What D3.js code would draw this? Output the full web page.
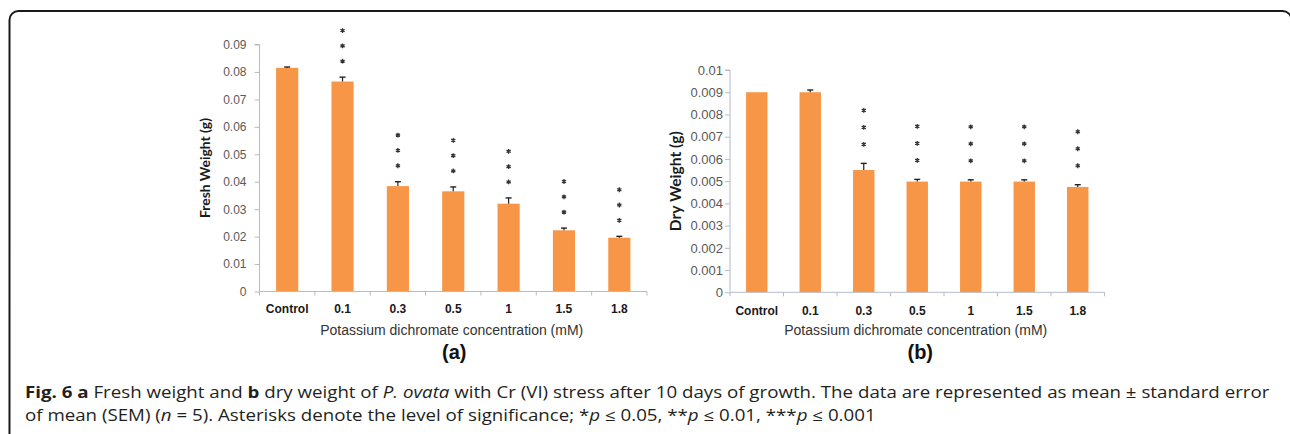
<!DOCTYPE html>
<html>
<head>
<meta charset="utf-8">
<script src="https://cdn.jsdelivr.net/npm/d3@7/dist/d3.min.js"></script>
<style>
  html, body { margin: 0; padding: 0; background: #fff; }
  svg { display: block; }
</style>
</head>
<body>
<svg id="chart" width="1290" height="434"></svg>
<script>
// ---------------- DATA ----------------
const categories = ["Control", "0.1", "0.3", "0.5", "1", "1.5", "1.8"];

const freshMean = [0.0815, 0.0765, 0.0384, 0.0365, 0.0320, 0.0223, 0.0196];
const freshSem  = [0.0003, 0.0016, 0.0016, 0.0016, 0.0021, 0.0008, 0.0005];
const freshStars = [0, 3, 3, 3, 3, 3, 3];
const freshTicks = [0, 0.01, 0.02, 0.03, 0.04, 0.05, 0.06, 0.07, 0.08, 0.09];
const freshTickLabels = ["0", "0.01", "0.02", "0.03", "0.04", "0.05", "0.06", "0.07", "0.08", "0.09"];

const dryMean = [0.0090, 0.0090, 0.0055, 0.00498, 0.00498, 0.00498, 0.00474];
const drySem  = [0, 0.0001, 0.0003, 0.0001, 0.00008, 0.00008, 0.0001];
const dryStars = [0, 0, 3, 3, 3, 3, 3];
const dryTicks = [0, 0.001, 0.002, 0.003, 0.004, 0.005, 0.006, 0.007, 0.008, 0.009, 0.01];
const dryTickLabels = ["0", "0.001", "0.002", "0.003", "0.004", "0.005", "0.006", "0.007", "0.008", "0.009", "0.01"];

const xTitle = "Potassium dichromate concentration (mM)";

// ---------------- DRAW ----------------
const svg = d3.select("#chart");

// rounded frame
svg.append("rect")
  .attr("x", 9.5).attr("y", 11).attr("width", 1282).attr("height", 500)
  .attr("rx", 9).attr("ry", 9)
  .attr("fill", "none").attr("stroke", "#1a1a1a").attr("stroke-width", 2);

const BAR = "#F79646";
const AXIS = "#b4bcc8";

function panel(cfg) {
  const g = svg.append("g");
  const x = d3.scaleBand().domain(categories).range(cfg.xRange).paddingInner(0).paddingOuter(0);
  const y = d3.scaleLinear().domain(cfg.yDomain).range(cfg.yRange);
  const bw = x.bandwidth() * 0.4;
  const cx = c => x(c) + x.bandwidth() / 2;

  // y axis
  const ya = d3.axisLeft(y).tickValues(cfg.ticks)
    .tickFormat((d, i) => cfg.tickLabels[i]).tickSize(5).tickPadding(cfg.tickPad);
  const yg = g.append("g").attr("transform", `translate(${cfg.xRange[0]},0)`).call(ya);
  yg.select(".domain").attr("stroke", AXIS).attr("d", `M-5,${cfg.yRange[1]}H0V${cfg.yRange[0]}`);
  yg.selectAll(".tick line").attr("stroke", AXIS);
  yg.selectAll(".tick text").attr("fill", "#595959")
    .style("font-family", "'Liberation Sans', Arial, sans-serif").style("font-size", cfg.tickFont + "px");

  // bars
  g.selectAll("rect.bar").data(categories).join("rect")
    .attr("class", "bar")
    .attr("x", c => cx(c) - bw / 2)
    .attr("width", bw)
    .attr("y", (c, i) => y(cfg.mean[i]))
    .attr("height", (c, i) => y(0) - y(cfg.mean[i]))
    .attr("fill", BAR);

  // x axis line + category divider ticks
  const xa = d3.axisBottom(x).tickSize(0).tickFormat("");
  const xg = g.append("g").attr("transform", `translate(0,${y(0)})`).call(xa);
  xg.select(".domain").attr("stroke", AXIS).attr("d", `M${cfg.xRange[0]},0H${cfg.xRange[1]}`);
  xg.selectAll(".tick").remove();
  const bounds = categories.map(c => x(c)).concat([cfg.xRange[1]]);
  xg.selectAll("line.div").data(bounds).join("line")
    .attr("class", "div").attr("x1", d => d).attr("x2", d => d)
    .attr("y1", 0).attr("y2", 4).attr("stroke", AXIS);

  // category labels
  g.selectAll("text.cat").data(categories).join("text")
    .attr("class", "cat")
    .attr("x", c => cx(c)).attr("y", cfg.catY)
    .attr("text-anchor", "middle")
    .style("font-family", "'Liberation Sans', Arial, sans-serif")
    .style("font-weight", "bold").style("font-size", "12px").attr("fill", "#1a1a1a")
    .text(c => c);

  // error bars (upper)
  categories.forEach((c, i) => {
    const s = cfg.sem[i];
    if (s <= 0) return;
    const x0 = cx(c), yt = y(cfg.mean[i] + s), yb = y(cfg.mean[i]);
    g.append("line").attr("x1", x0).attr("x2", x0).attr("y1", yb).attr("y2", yt)
      .attr("stroke", "#222").attr("stroke-width", 1.2);
    g.append("line").attr("x1", x0 - 3).attr("x2", x0 + 3).attr("y1", yt).attr("y2", yt)
      .attr("stroke", "#222").attr("stroke-width", 1.4);
  });

  // significance asterisks
  const star = d3.symbol().type(d3.symbolAsterisk).size(16);
  categories.forEach((c, i) => {
    const top = y(cfg.mean[i] + cfg.sem[i]);
    for (let k = 0; k < cfg.stars[i]; k++) {
      g.append("path").attr("d", star())
        .attr("transform", `translate(${cx(c)},${top - cfg.starGap - k * cfg.starStep})`)
        .attr("fill", "none").attr("stroke", "#333").attr("stroke-width", 1.3);
    }
  });

  // y title
  const ymid = (cfg.yRange[0] + cfg.yRange[1]) / 2;
  g.append("text")
    .attr("transform", `translate(${cfg.yTitleX},${ymid}) rotate(-90)`)
    .attr("text-anchor", "middle")
    .attr("textLength", 100).attr("lengthAdjust", "spacingAndGlyphs")
    .style("font-family", "Lato, 'Liberation Sans', sans-serif")
    .style("font-weight", "bold").style("font-size", cfg.yTitleFont + "px").attr("fill", "#1a1a1a")
    .text(cfg.yTitle);

  // x title
  const xmid = (cfg.xRange[0] + cfg.xRange[1]) / 2;
  g.append("text")
    .attr("x", xmid - 1.5).attr("y", cfg.xTitleY)
    .attr("text-anchor", "middle")
    .style("font-family", "'Liberation Sans', Arial, sans-serif")
    .style("font-size", "14px").attr("fill", "#333")
    .text(xTitle);

  // panel letter
  g.append("text")
    .attr("x", xmid + cfg.letterDx).attr("y", 359)
    .attr("text-anchor", "middle")
    .style("font-family", "'Liberation Sans', Arial, sans-serif")
    .style("font-weight", "bold").style("font-size", "20px").attr("fill", "#111")
    .text(cfg.letter);
}

panel({
  xRange: [259.5, 647], yRange: [291.5, 44.5], yDomain: [0, 0.09],
  ticks: freshTicks, tickLabels: freshTickLabels, tickFont: 12, tickPad: 8,
  mean: freshMean, sem: freshSem, stars: freshStars, starGap: 16, starStep: 15.3,
  catY: 312.5, xTitleY: 334.5, yTitle: "Fresh Weight (g)", yTitleX: 210, yTitleFont: 12.5,
  letter: "(a)", letterDx: 1
});

panel({
  xRange: [730, 1104.5], yRange: [292.3, 70], yDomain: [0, 0.01],
  ticks: dryTicks, tickLabels: dryTickLabels, tickFont: 13, tickPad: 2,
  mean: dryMean, sem: drySem, stars: dryStars, starGap: 19, starStep: 17,
  catY: 314.5, xTitleY: 335, yTitle: "Dry Weight (g)", yTitleX: 681, yTitleFont: 14.5,
  letter: "(b)", letterDx: 3
});

// ---------------- CAPTION ----------------
const cap = svg.append("g").attr("transform", "translate(25,0)");
const capFont = "'Open Sans', 'Noto Sans', sans-serif";
const line1 = cap.append("text").attr("x", 0).attr("y", 398)
  .style("font-family", capFont).style("font-size", "15.5px").attr("fill", "#231f20");
[["Fig. 6 a", "bold"], [" Fresh weight and ", ""], ["b", "bold"], [" dry weight of ", ""],
 ["P. ovata", "italic"], [" with Cr (VI) stress after 10 days of growth. The data are represented as mean \u00b1 standard error", ""]]
  .forEach(([t, s]) => {
    const ts = line1.append("tspan").text(t);
    if (s === "bold") ts.style("font-weight", "bold");
    if (s === "italic") ts.style("font-style", "italic");
  });
const line2 = cap.append("text").attr("x", 0).attr("y", 421)
  .style("font-family", capFont).style("font-size", "15.5px").attr("fill", "#231f20");
[["of mean (SEM) (", ""], ["n", "italic"], [" = 5). Asterisks denote the level of significance; *", ""], ["p", "italic"],
 [" \u2264 0.05, **", ""], ["p", "italic"], [" \u2264 0.01, ***", ""], ["p", "italic"], [" \u2264 0.001", ""]]
  .forEach(([t, s]) => {
    const ts = line2.append("tspan").text(t);
    if (s === "italic") ts.style("font-style", "italic");
  });
const w1 = line1.node().getComputedTextLength();
const k = 1245 / w1;
cap.attr("transform", `translate(25,0) scale(${k},1)`);
</script>
</body>
</html>
